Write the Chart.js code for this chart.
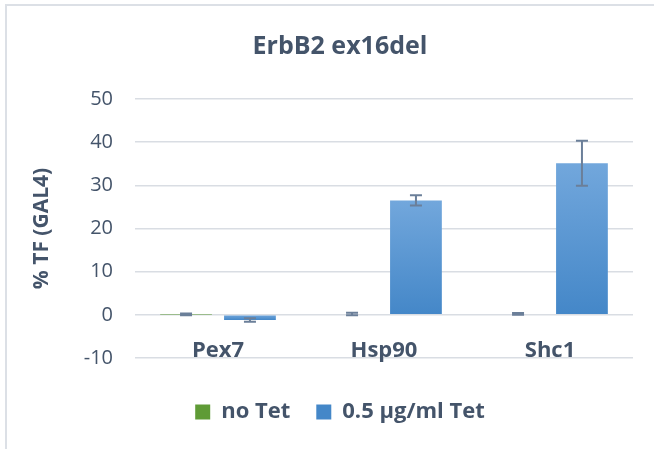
<!DOCTYPE html>
<html lang="en">
  <head>
    <meta charset="UTF-8" />
    <script src="https://cdn.jsdelivr.net/npm/chart.js@4.4.1/dist/chart.umd.min.js"></script>
    <title>ErbB2 ex16del</title>
    <style>
      body { margin: 0; background: #fff; overflow: hidden; }
      #frame { position: absolute; left: 5px; top: 4px; width: 700px; height: 500px; border: 2px solid #DCE0E6; }
      #wrap { position: absolute; left: 0; top: 0; width: 654px; height: 449px; }
    </style>
  </head>
  <body>
    <div id="frame"></div>
    <div id="wrap"><canvas id="myChart"></canvas></div>
    <script>
      const categories = ["Pex7", "Hsp90", "Shc1"];
      const noTet = [0.1, 0.2, 0.2];
      const noTetErr = [0.2, 0.3, 0.2];
      const tet = [-1.2, 26.5, 35.1];
      const tetErr = [0.4, 1.2, 5.2];
      const yTicks = [-10, 0, 10, 20, 30, 40, 50];

      const textColor = "#44546A";
      const fontName = "'Open Sans', sans-serif";

      // gradient from top of each bar to its base, like the Excel fill
      const barFill = (light, dark) => (ctx) => {
        const chart = ctx.chart;
        if (ctx.type !== "data" || !chart.chartArea) return dark;
        const y = chart.scales.y;
        const top = y.getPixelForValue(Math.max(ctx.raw, 0));
        const bot = y.getPixelForValue(Math.min(ctx.raw, 0));
        if (bot - top < 1) return dark;
        const g = chart.ctx.createLinearGradient(0, top, 0, bot);
        g.addColorStop(0, light);
        g.addColorStop(1, dark);
        return g;
      };

      const errorBars = {
        id: "errorBars",
        afterDatasetsDraw(chart) {
          const c = chart.ctx;
          const y = chart.scales.y;
          const errs = [noTetErr, tetErr];
          c.save();
          c.strokeStyle = "#6B7F99";
          c.lineWidth = 2;
          chart.data.datasets.forEach((ds, i) => {
            const meta = chart.getDatasetMeta(i);
            meta.data.forEach((bar, j) => {
              const v = ds.data[j];
              const e = errs[i][j];
              const yHi = y.getPixelForValue(v + e);
              const yLo = y.getPixelForValue(v - e);
              c.beginPath();
              c.moveTo(bar.x, yHi);
              c.lineTo(bar.x, yLo);
              c.moveTo(bar.x - 6, yHi);
              c.lineTo(bar.x + 6, yHi);
              c.moveTo(bar.x - 6, yLo);
              c.lineTo(bar.x + 6, yLo);
              c.stroke();
            });
          });
          c.restore();
        },
      };

      // category names sit between the 0 and -10 gridlines, as in Excel
      const catLabels = {
        id: "catLabels",
        afterDatasetsDraw(chart) {
          const c = chart.ctx;
          const x = chart.scales.x;
          c.save();
          c.fillStyle = textColor;
          c.font = "bold 22px " + fontName;
          c.textAlign = "center";
          c.textBaseline = "alphabetic";
          categories.forEach((name, i) => {
            c.fillText(name, x.getPixelForValue(i), chart.chartArea.bottom - 1);
          });
          c.restore();
        },
      };

      const ctx = document.getElementById("myChart").getContext("2d");
      const chart = new Chart(ctx, {
        type: "bar",
        data: {
          labels: categories,
          datasets: [
            {
              label: "no Tet",
              data: noTet,
              backgroundColor: barFill("#7DBA55", "#5F9B36"),
              borderWidth: 0,
            },
            {
              label: "0.5 µg/ml Tet",
              data: tet,
              backgroundColor: barFill("#72A7DC", "#4487C8"),
              borderWidth: 0,
            },
          ],
        },
        options: {
          responsive: true,
          maintainAspectRatio: false,
          animation: false,
          layout: { padding: { left: 26, right: 0, top: 0, bottom: 16 } },
          datasets: {
            bar: { categoryPercentage: 0.77, barPercentage: 0.81 },
          },
          scales: {
            x: {
              grid: { display: false, drawTicks: false },
              border: { display: false },
              ticks: { display: false },
              afterFit: (s) => { s.height = 17; },
            },
            y: {
              min: -10,
              max: 50,
              afterBuildTicks: (s) => { s.ticks = yTicks.map((v) => ({ value: v })); },
              afterFit: (s) => { s.width = 109; s.paddingTop = 0; s.paddingBottom = 0; },
              grid: { color: "#D9DDE3", lineWidth: 1.5, drawTicks: false },
              border: { display: false },
              ticks: {
                color: textColor,
                padding: 22,
                font: { family: fontName, size: 20 },
              },
              title: {
                display: true,
                text: "% TF (GAL4)",
                color: textColor,
                padding: { top: 3, bottom: 0 },
                font: { family: fontName, size: 21, weight: "bold" },
              },
            },
            // empty right-hand axis: keeps the plot off the right edge
            yRight: {
              position: "right",
              display: true,
              grid: { display: false },
              border: { display: false },
              ticks: { display: false },
              afterFit: (s) => { s.width = 21; },
            },
          },
          plugins: {
            title: {
              display: true,
              text: "ErbB2 ex16del",
              color: textColor,
              padding: { top: 32, bottom: 37 },
              font: { family: fontName, size: 25, weight: "bold", lineHeight: 1.2 },
            },
            legend: {
              position: "bottom",
              labels: {
                color: textColor,
                boxWidth: 15,
                boxHeight: 15,
                padding: 26,
                font: { family: fontName, size: 22, weight: "bold" },
              },
            },
            tooltip: { enabled: false },
          },
        },
        plugins: [errorBars, catLabels],
      });
    </script>
  </body>
</html>
